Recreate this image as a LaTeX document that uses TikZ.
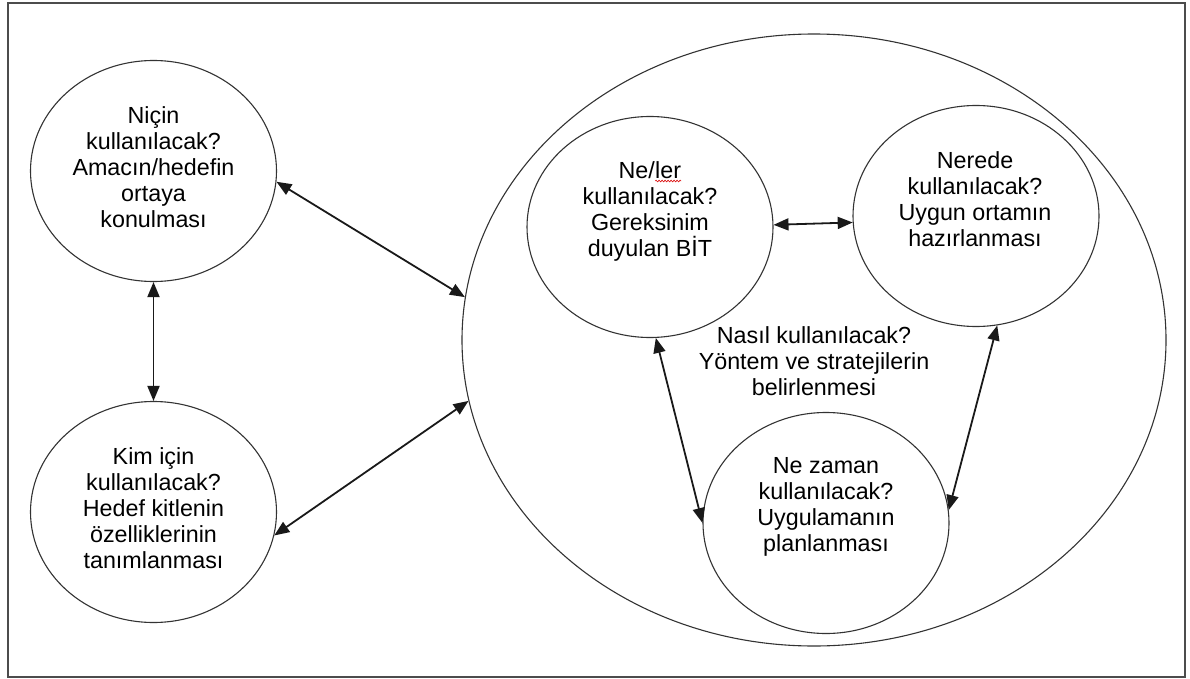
\documentclass[tikz,border=0pt]{standalone}
\usepackage{fontspec}
\setmainfont{Liberation Sans}
\usetikzlibrary{shapes.geometric,arrows.meta,decorations.pathmorphing}

% word with a red wavy spell-check underline
\newcommand\spellwave[1]{\tikz[baseline=(sw.base),x=1pt,y=1pt]{%
  \node[inner sep=0pt,outer sep=0pt] (sw) {#1};%
  \draw[red!85!black,line width=0.6pt,decorate,
        decoration={snake,amplitude=0.9pt,segment length=3pt}]
    ([yshift=-3pt]sw.base west) -- ([yshift=-3pt]sw.base east);}}

\begin{document}
\begin{tikzpicture}[x=1pt,y=-1pt,
  bubble/.style={ellipse,draw=black!80,line width=1.1pt,inner sep=0pt,
                 minimum width=246pt,minimum height=221pt},
  caption/.style={align=center,inner sep=0pt,text=black,
                  font=\fontsize{23.3}{26}\selectfont},
  link/.style={{Triangle[length=15pt,width=12pt]}-{Triangle[length=15pt,width=12pt]},
               line width=1.8pt,draw=black!90}]
\useasboundingbox (0,0) rectangle (1190,679);

% outer frame
\draw[black!70,line width=2pt] (8,3) rectangle (1185,677);

% enclosing ellipse of the "how" stage
\node[bubble,minimum width=704pt,minimum height=612pt] (big) at (814,340) {};

% left-hand questions
\node[bubble] (nicin) at (153.5,171) {};
\node[bubble] (kim)   at (153.5,512) {};

% inner questions
\node[bubble] (neler)  at (650,227) {};
\node[bubble] (nerede) at (976,216) {};
\node[bubble] (zaman)  at (826,523) {};

% texts
\node[caption] (nicinT) at (153.5,167) {Niçin\\kullanılacak?\\Amacın/hedefin\\ortaya\\konulması};
\node[caption] (kimT)   at (153.5,508) {Kim için\\kullanılacak?\\Hedef kitlenin\\özelliklerinin\\tanımlanması};
\node[caption] (nelerT) at (650,211) {Ne/\spellwave{ler}\\kullanılacak?\\Gereksinim\\duyulan BİT};
\node[caption] (neredeT) at (975,199) {Nerede\\kullanılacak?\\Uygun ortamın\\hazırlanması};
\node[caption] (nasilT) at (814,361) {Nasıl kullanılacak?\\Yöntem ve stratejilerin\\belirlenmesi};
\node[caption] (zamanT) at (826,507) {Ne zaman\\kullanılacak?\\Uygulamanın\\planlanması};

% connectors
\draw[link] (nicin.-5) -- (big.173.9);
\draw[link] (kim.-11.8) -- (big.190.4);
\draw[link] (nicin.south) -- (kim.north);
\draw[link] (neler.1.9) -- (nerede.183.3);
\draw[link] (neler.-87.5) -- (zaman.180);
\draw[link] (nerede.-79.4) -- (zaman.6.7);
\end{tikzpicture}
\end{document}
